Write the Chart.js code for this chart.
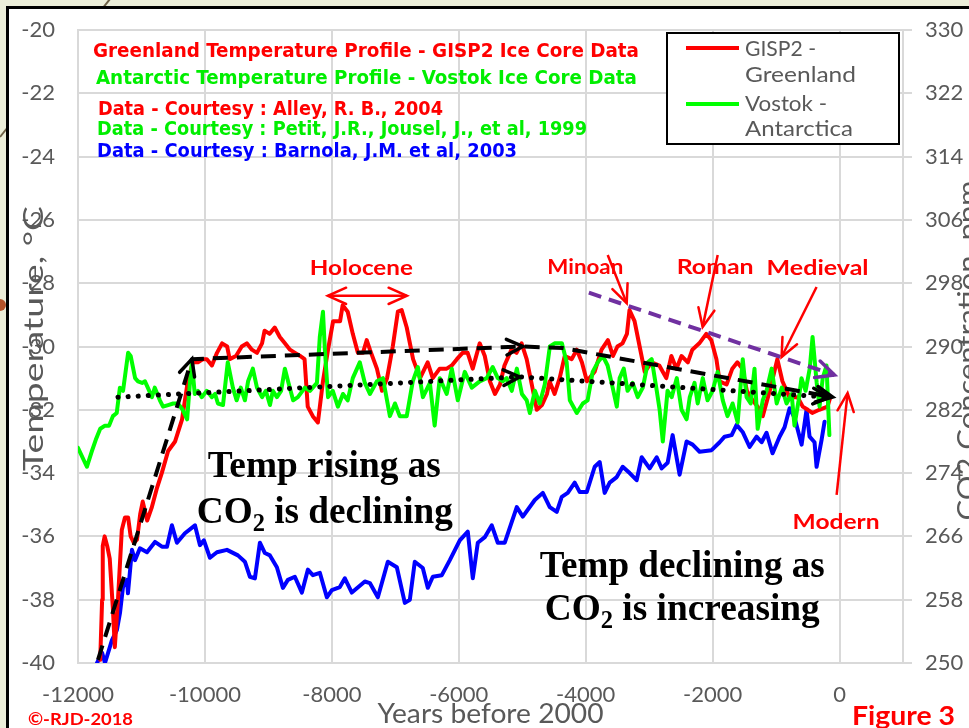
<!DOCTYPE html>
<html>
<head>
<meta charset="utf-8">
<title>Greenland and Antarctic Holocene temperature vs CO2</title>
<script src="https://cdn.jsdelivr.net/npm/chart.js@4.4.1/dist/chart.umd.min.js"></script>
<style>
  html, body { margin: 0; padding: 0; }
  body { width: 969px; height: 728px; overflow: hidden; position: relative; background: #eceed9; }
  #deco { position: absolute; left: 0; top: 0; }
  #frame { position: absolute; left: 6px; top: 6px; width: 1000px; height: 760px; border: 3px solid #000; background: #fff; }
  #cv { position: absolute; left: 0; top: 0; }
</style>
</head>
<body>
<svg id="deco" width="969" height="728">
  <line x1="0" y1="137" x2="114" y2="-6" stroke="#6d6045" stroke-width="2"/>
  <circle cx="0" cy="305" r="6" fill="#b5532a"/>
</svg>
<div id="frame"></div>
<canvas id="cv" width="969" height="728"></canvas>
<script>
// ---- values ----
const yearTicks = [-12000, -10000, -8000, -6000, -4000, -2000, 0];
const tempTicks = [-40, -38, -36, -34, -32, -30, -28, -26, -24, -22, -20];
const co2Ticks = [250, 258, 266, 274, 282, 290, 298, 306, 314, 322, 330];

// GISP2 - Greenland (deg C)
const gispYears = [
  -11650, -11620, -11610, -11580, -11540, -11500, -11450, -11420, -11370, -11310,
  -11260, -11210, -11170, -11120, -11070, -11020, -10980, -10910, -10840, -10760,
  -10680, -10580, -10470, -10360, -10270, -10190, -10110, -10030, -9970, -9890,
  -9810, -9730, -9650, -9610, -9510, -9420, -9340, -9260, -9180, -9100,
  -9060, -8980, -8900, -8820, -8740, -8660, -8580, -8500, -8430, -8380,
  -8300, -8220, -8140, -8060, -7980, -7870, -7830, -7750, -7670, -7590,
  -7510, -7450, -7400, -7290, -7210, -7130, -7040, -6960, -6900, -6820,
  -6720, -6610, -6490, -6410, -6300, -6190, -6110, -6030, -5940, -5860,
  -5780, -5670, -5590, -5510, -5430, -5350, -5280, -5170, -5090, -5010,
  -4930, -4850, -4770, -4690, -4610, -4570, -4490, -4410, -4330, -4220,
  -4140, -4060, -3980, -3860, -3750, -3650, -3570, -3500, -3420, -3350,
  -3310, -3230, -3150, -3070, -2960, -2840, -2730, -2650, -2570, -2490,
  -2390, -2320, -2210, -2100, -2020, -1940, -1890, -1780, -1690, -1610,
  -1530, -1460, -1370, -1290, -1210, -1100, -980, -900, -790, -660,
  -580, -500, -430, -320, -190, -145
];
const gispTemps = [
  -39.9, -38.0, -36.3, -36.0, -36.3, -36.7, -38.3, -39.5, -38.0, -35.8,
  -35.4, -35.4, -36.0, -36.2, -36.1, -35.3, -34.9, -35.5, -35.1, -34.5,
  -34.0, -33.3, -33.0, -32.3, -31.1, -30.5, -30.5, -30.4, -30.4, -30.6,
  -30.2, -29.9, -30.0, -30.4, -30.3, -30.0, -29.9, -30.1, -30.2, -29.9,
  -29.5, -29.6, -29.4, -29.7, -29.9, -30.1, -30.2, -30.3, -30.4, -31.9,
  -32.2, -32.4, -31.1, -30.1, -29.2, -29.2, -28.7, -28.9, -29.6, -30.2,
  -30.2, -29.8, -30.1, -30.7, -31.4, -31.0, -30.0, -28.9, -28.85, -29.4,
  -30.4, -31.0, -30.5, -31.0, -30.7, -30.7, -30.6, -30.4, -30.2, -30.2,
  -30.7, -29.9, -30.3, -31.1, -31.5, -31.2, -30.6, -30.1, -30.2, -29.9,
  -30.4, -31.2, -32.0, -31.85, -31.5, -31.1, -31.5, -31.0, -30.3, -30.4,
  -30.1, -30.5, -31.1, -30.8, -30.1, -29.8, -30.3, -30.0, -29.9, -29.6,
  -28.85, -29.2, -30.0, -30.8, -30.5, -30.6, -31.0, -30.3, -30.7, -30.3,
  -30.5, -30.1, -29.9, -29.6, -29.8, -30.4, -31.1, -31.2, -30.7, -30.5,
  -30.7, -31.4, -31.7, -31.9, -32.2, -31.4, -30.4, -31.1, -31.6, -31.6,
  -31.9, -32.0, -32.1, -32.0, -31.9, -31.6
];

// Vostok - Antarctica (deg C)
const vostokYears = [
  -12000, -11860, -11780, -11720, -11650, -11575, -11510, -11450, -11390, -11340,
  -11290, -11210, -11170, -11100, -11055, -10990, -10945, -10900, -10835, -10790,
  -10710, -10660, -10580, -10500, -10425, -10350, -10280, -10235, -10205, -10160,
  -10110, -10050, -9970, -9890, -9840, -9795, -9715, -9640, -9560, -9500,
  -9435, -9370, -9320, -9245, -9180, -9100, -9040, -8975, -8930, -8865,
  -8800, -8740, -8690, -8610, -8535, -8425, -8345, -8235, -8190, -8140,
  -8110, -8060, -7985, -7905, -7825, -7750, -7670, -7560, -7480, -7400,
  -7290, -7195, -7085, -7005, -6930, -6820, -6725, -6645, -6565, -6455,
  -6380, -6300, -6190, -6110, -6015, -5905, -5795, -5670, -5560, -5465,
  -5385, -5305, -5245, -5165, -5085, -5005, -4930, -4880, -4800, -4725,
  -4645, -4565, -4490, -4375, -4300, -4250, -4140, -4045, -3970, -3890,
  -3810, -3730, -3655, -3575, -3510, -3465, -3400, -3340, -3260, -3180,
  -3100, -3020, -2960, -2880, -2835, -2785, -2710, -2645, -2565, -2490,
  -2410, -2360, -2285, -2235, -2155, -2080, -2000, -1920, -1840, -1765,
  -1685, -1605, -1525, -1465, -1400, -1340, -1290, -1210, -1150, -1070,
  -990, -910, -835, -755, -710, -645, -600, -535, -470, -425,
  -360, -315, -265, -205, -160
];
const vostokTemps = [
  -33.2, -33.8, -33.3, -32.95, -32.6, -32.5, -32.5, -32.2, -32.1, -31.3,
  -31.4, -30.2, -30.3, -31.0, -31.1, -31.15, -31.1, -31.3, -31.6, -31.3,
  -31.7, -31.9, -31.85, -31.8, -31.8, -32.0, -32.3, -31.1, -30.5, -31.5,
  -31.4, -31.6, -31.4, -31.6, -31.5, -31.8, -31.85, -30.5, -31.3, -31.7,
  -31.3, -31.7, -31.1, -30.7, -31.3, -31.6, -31.4, -31.85, -31.4, -31.6,
  -31.4, -30.7, -31.1, -31.7, -31.6, -31.3, -31.4, -31.15, -29.7, -28.9,
  -30.1, -31.6, -31.4, -31.9, -31.5, -31.7, -31.0, -30.5, -31.15, -31.5,
  -31.1, -31.0, -32.2, -31.8, -32.2, -32.2, -31.1, -30.65, -31.6, -31.15,
  -32.5, -31.0, -31.5, -30.7, -31.7, -30.8, -31.3, -31.1, -31.0, -30.65,
  -31.0, -31.1, -31.0, -31.4, -30.7, -31.5, -31.7, -32.1, -31.4, -31.8,
  -31.2, -30.0, -29.9, -29.9, -30.5, -31.7, -32.1, -31.8, -31.7, -30.8,
  -30.5, -30.3, -30.6, -31.3, -31.9, -31.0, -30.7, -31.4, -31.15, -31.6,
  -31.3, -30.5, -30.4, -31.4, -32.0, -33.0, -31.4, -31.6, -31.0, -32.0,
  -32.3, -31.6, -31.15, -31.8, -31.0, -31.7, -31.4, -30.8, -31.7, -32.2,
  -31.8, -32.4, -30.4, -31.6, -31.8, -30.7, -32.6, -31.7, -31.4, -30.7,
  -31.8, -31.3, -31.8, -31.5, -32.5, -31.7, -31.0, -31.4, -30.7, -29.7,
  -31.15, -31.9, -31.0, -30.6, -32.8
];

// CO2 (ppm), Barnola
const co2Years = [
  -11700, -11620, -11575, -11465, -11386, -11339, -11291, -11228, -11213, -11150,
  -11102, -11024, -10913, -10787, -10677, -10598, -10520, -10441, -10315, -10157,
  -10079, -10016, -9921, -9811, -9653, -9480, -9370, -9291, -9212, -9134,
  -9055, -8976, -8866, -8771, -8693, -8583, -8472, -8378, -8299, -8189,
  -8079, -8000, -7874, -7795, -7685, -7480, -7401, -7275, -7118, -6976,
  -6850, -6771, -6693, -6567, -6488, -6409, -6267, -6141, -5984, -5858,
  -5779, -5700, -5590, -5480, -5385, -5275, -5086, -4991, -4802, -4676,
  -4566, -4456, -4377, -4283, -4173, -4094, -3984, -3858, -3779, -3701,
  -3622, -3511, -3417, -3307, -3197, -3118, -2992, -2881, -2803, -2709,
  -2630, -2520, -2410, -2315, -2205, -2016, -1889, -1811, -1700, -1622,
  -1527, -1417, -1307, -1228, -1150, -1055, -945, -866, -787, -708,
  -598, -520, -472, -394, -362, -283, -236
];
const co2Values = [
  250.0, 251.3, 250.0, 252.9, 254.2, 256.3, 259.6, 260.5, 258.8, 264.3,
  263.0, 264.5, 264.0, 265.3, 264.7, 264.7, 267.4, 265.2, 266.4, 267.4,
  264.9, 265.5, 263.3, 264.0, 264.3, 263.6, 262.8, 260.9, 260.7, 265.2,
  263.9, 263.6, 262.1, 259.5, 260.5, 260.9, 258.9, 261.8, 261.1, 261.4,
  258.3, 259.2, 259.6, 260.7, 258.9, 260.3, 260.1, 258.3, 262.8, 262.1,
  257.6, 258.0, 262.8, 262.0, 259.5, 260.9, 261.1, 263.0, 265.5, 266.6,
  260.7, 265.2, 265.9, 267.4, 265.2, 265.2, 269.7, 268.5, 270.6, 271.5,
  269.7, 269.1, 271.0, 271.5, 272.8, 271.6, 271.6, 274.8, 275.4, 271.5,
  272.8, 273.5, 274.8, 274.0, 273.1, 276.0, 274.6, 276.0, 274.6, 275.3,
  278.8, 273.8, 278.0, 277.6, 276.7, 276.9, 277.9, 278.6, 278.8, 280.1,
  279.2, 277.3, 278.6, 277.9, 279.1, 276.5, 278.6, 279.8, 282.2, 281.0,
  277.6, 282.0, 278.6, 277.9, 274.8, 278.2, 280.5
];

// trend lines drawn over the data on the slide
const riseYears = [-11685, -10205, -4990, -4360, -110];
const riseTemps = [-39.9, -30.4, -30.0, -30.05, -31.6];
const flatYears = [-11370, -5040, -160];
const flatTemps = [-31.6, -30.96, -31.6];
const peakYears = [-3950, -80];
const peakTemps = [-28.3, -30.9];

const GREY = '#595959';
const GRID = '#d9d9d9';

const pts = (xs, ys) => xs.map((x, i) => ({ x: x, y: ys[i] }));
const setTicks = arr => scale => { scale.ticks = arr.map(v => ({ value: v })); };
// fixed axis box; the tick padding must not push the plot down
const fixWidth = w => scale => { scale.width = w; scale.paddingTop = 0; scale.paddingBottom = 0; };

// draw text squeezed/stretched to the width it has on the slide
function fitText(ctx, text, x, y, width, font, color, align) {
  ctx.font = font;
  const w = ctx.measureText(text).width;
  ctx.save();
  ctx.translate(x, y);
  ctx.scale(width / w, 1);
  ctx.font = font;
  ctx.fillStyle = color;
  ctx.textAlign = align || 'left';
  ctx.textBaseline = 'alphabetic';
  ctx.fillText(text, 0, 0);
  ctx.restore();
}

// "CO" + subscript 2 + rest, centred on cx
function co2Text(ctx, rest, cx, y, width, size) {
  const big = 'bold ' + size + 'px "Liberation Serif", "Times New Roman", serif';
  const small = 'bold ' + Math.round(size * 0.65) + 'px "Liberation Serif", "Times New Roman", serif';
  ctx.font = big;
  const w1 = ctx.measureText('CO').width, w3 = ctx.measureText(rest).width;
  ctx.font = small;
  const w2 = ctx.measureText('2').width;
  const k = width / (w1 + w2 + w3);
  ctx.save();
  ctx.translate(cx - width / 2, y);
  ctx.scale(k, 1);
  ctx.fillStyle = '#000';
  ctx.textAlign = 'left';
  ctx.textBaseline = 'alphabetic';
  ctx.font = big; ctx.fillText('CO', 0, 0);
  ctx.font = small; ctx.fillText('2', w1, size * 0.22);
  ctx.font = big; ctx.fillText(rest, w1 + w2, 0);
  ctx.restore();
}

function head(ctx, from, to, len, ang, color, lw) {
  const a = Math.atan2(to[1] - from[1], to[0] - from[0]);
  ctx.save();
  ctx.setLineDash([]);
  ctx.strokeStyle = color;
  ctx.lineWidth = lw;
  ctx.lineCap = 'round';
  ctx.lineJoin = 'miter';
  ctx.beginPath();
  ctx.moveTo(to[0] - len * Math.cos(a - ang), to[1] - len * Math.sin(a - ang));
  ctx.lineTo(to[0], to[1]);
  ctx.lineTo(to[0] - len * Math.cos(a + ang), to[1] - len * Math.sin(a + ang));
  ctx.stroke();
  ctx.restore();
}

function arrow(ctx, from, to, color, lw, both) {
  ctx.save();
  ctx.setLineDash([]);
  ctx.strokeStyle = color;
  ctx.lineWidth = lw;
  ctx.beginPath();
  ctx.moveTo(from[0], from[1]);
  ctx.lineTo(to[0], to[1]);
  ctx.stroke();
  ctx.restore();
  head(ctx, from, to, 20, 0.42, color, lw);
  if (both) head(ctx, to, from, 20, 0.42, color, lw);
}

const noteArrows = [
  { from: [-8063, -28.4], to: [-6818, -28.4], both: true },
  { from: [-3653, -27.11], to: [-3354, -28.63] },
  { from: [-1920, -27.11], to: [-2157, -29.38] },
  { from: [-362, -28.12], to: [-913, -30.33] },
  { from: [-46, -34.69], to: [127, -31.47] }
];
const redLabels = [
  { text: 'Holocene', x: -7535, y: -27.74, w: 103 },
  { text: 'Minoan', x: -4007, y: -27.72, w: 76 },
  { text: 'Roman', x: -1960, y: -27.72, w: 77 },
  { text: 'Medieval', x: -346, y: -27.74, w: 102 },
  { text: 'Modern', x: -54, y: -35.77, w: 87 }
];
const sourceLines = [
  { text: 'Greenland Temperature Profile - GISP2 Ice Core Data', color: '#ff0000', x: -11764, y: -20.85, w: 546 },
  { text: 'Antarctic Temperature Profile - Vostok Ice Core Data', color: '#00ee00', x: -11717, y: -21.72, w: 541 },
  { text: 'Data - Courtesy : Alley, R. B., 2004', color: '#ff0000', x: -11685, y: -22.67, w: 345 },
  { text: 'Data - Courtesy : Petit, J.R., Jousel, J., et al, 1999', color: '#00ee00', x: -11700, y: -23.33, w: 490 },
  { text: 'Data - Courtesy : Barnola, J.M. et al, 2003', color: '#0000ff', x: -11700, y: -24.0, w: 420 }
];

const slideNotes = {
  id: 'slideNotes',
  afterDatasetsDraw(chart) {
    const ctx = chart.ctx, sx = chart.scales.x, sy = chart.scales.y;
    const P = p => [sx.getPixelForValue(p[0]), sy.getPixelForValue(p[1])];

    // arrow heads on the hand-drawn trend lines
    const rise = riseYears.map((x, i) => P([x, riseTemps[i]]));
    head(ctx, rise[0], rise[1], 18, 0.45, '#000', 3.5);
    head(ctx, rise[1], rise[2], 18, 0.45, '#000', 3.5);
    head(ctx, rise[3], rise[4], 18, 0.45, '#000', 3.5);
    const flat = flatYears.map((x, i) => P([x, flatTemps[i]]));
    head(ctx, flat[0], flat[1], 18, 0.45, '#000', 3.5);
    head(ctx, flat[1], flat[2], 18, 0.45, '#000', 3.5);
    const peak = peakYears.map((x, i) => P([x, peakTemps[i]]));
    head(ctx, peak[0], peak[1], 20, 0.45, '#7030a0', 3.5);

    noteArrows.forEach(a => arrow(ctx, P(a.from), P(a.to), '#ff0000', 2.5, a.both));

    const labelFont = 'bold 21px Lato, "Open Sans", sans-serif';
    redLabels.forEach(l => {
      const p = P([l.x, l.y]);
      fitText(ctx, l.text, p[0], p[1], l.w, labelFont, '#ff0000', 'center');
    });

    const srcFont = 'bold 19px "DejaVu Sans Condensed", "DejaVu Sans", sans-serif';
    sourceLines.forEach(l => {
      const p = P([l.x, l.y]);
      fitText(ctx, l.text, p[0], p[1], l.w, srcFont, l.color, 'left');
    });

    const serif = 'bold 38px "Liberation Serif", "Times New Roman", serif';
    let p = P([-8118, -34.12]);
    fitText(ctx, 'Temp rising as', p[0], p[1], 233, serif, '#000', 'center');
    p = P([-8110, -35.58]);
    co2Text(ctx, ' is declining', p[0], p[1], 256, 38);
    p = P([-2479, -37.28]);
    fitText(ctx, 'Temp declining as', p[0], p[1], 285, serif, '#000', 'center');
    p = P([-2479, -38.64]);
    co2Text(ctx, ' is increasing', p[0], p[1], 275, 38);
  },
  afterDraw(chart) {
    const ctx = chart.ctx, area = chart.chartArea;
    const sans = s => s + 'px Lato, "Open Sans", sans-serif';

    // legend box inside the plot, top right
    const lx = area.left + 589, ly = area.top + 3;
    ctx.save();
    ctx.fillStyle = '#fff';
    ctx.fillRect(lx, ly, 232, 111);
    ctx.strokeStyle = '#000';
    ctx.lineWidth = 2;
    ctx.strokeRect(lx, ly, 232, 111);
    const items = [chart.data.datasets[4], chart.data.datasets[3]];
    items.forEach((ds, i) => {
      const yLine = ly + 15 + i * 56;
      ctx.strokeStyle = ds.borderColor;
      ctx.lineWidth = 4;
      ctx.beginPath();
      ctx.moveTo(lx + 19, yLine);
      ctx.lineTo(lx + 72, yLine);
      ctx.stroke();
    });
    ctx.restore();
    fitText(ctx, 'GISP2 -', lx + 78, ly + 23, 71, sans(21), GREY);
    fitText(ctx, 'Greenland', lx + 78, ly + 49, 111, sans(21), GREY);
    fitText(ctx, 'Vostok -', lx + 78, ly + 78, 82, sans(21), GREY);
    fitText(ctx, 'Antarctica', lx + 78, ly + 103, 108, sans(21), GREY);

    // axis titles
    ctx.save();
    ctx.translate(43, (area.top + area.bottom) / 2 - 8);
    ctx.rotate(-Math.PI / 2);
    fitText(ctx, 'Temperature, \u00B0C', 0, 0, 265, sans(27), GREY, 'center');
    ctx.restore();
    ctx.save();
    ctx.translate(977, (area.top + area.bottom) / 2 + 4);
    ctx.rotate(-Math.PI / 2);
    fitText(ctx, 'CO2 Concentration, ppm', 0, 0, 340, sans(27), GREY, 'center');
    ctx.restore();
    fitText(ctx, 'Years before 2000', (area.left + area.right) / 2, 723, 226, sans(26), GREY, 'center');

    // slide footer
    fitText(ctx, '\u00A9-RJD-2018', 28, 725, 105, 'bold 17px Lato, "Open Sans", sans-serif', '#ff0000');
    fitText(ctx, 'Figure 3', 852, 725, 103, 'bold 26px Lato, "Open Sans", sans-serif', '#ff0000');
  }
};

const lineBase = { showLine: true, pointRadius: 0, pointHoverRadius: 0, fill: false, tension: 0, borderJoinStyle: 'round', borderCapStyle: 'round' };

new Chart(document.getElementById('cv'), {
  type: 'scatter',
  data: {
    datasets: [
      Object.assign({}, lineBase, { label: 'rise', data: pts(riseYears, riseTemps), borderColor: '#000', borderWidth: 4, borderDash: [15, 9], borderCapStyle: 'butt', order: 0 }),
      Object.assign({}, lineBase, { label: 'flat', data: pts(flatYears, flatTemps), borderColor: '#000', borderWidth: 5, borderDash: [0.1, 10], order: 0 }),
      Object.assign({}, lineBase, { label: 'peaks', data: pts(peakYears, peakTemps), borderColor: '#7030a0', borderWidth: 4, borderDash: [13, 8], borderCapStyle: 'butt', order: 0 }),
      Object.assign({}, lineBase, { label: 'Vostok - Antarctica', data: pts(vostokYears, vostokTemps), borderColor: '#00ff00', borderWidth: 4, order: 1 }),
      Object.assign({}, lineBase, { label: 'GISP2 - Greenland', data: pts(gispYears, gispTemps), borderColor: '#ff0000', borderWidth: 4, order: 2 }),
      Object.assign({}, lineBase, { label: 'CO2', data: pts(co2Years, co2Values), borderColor: '#0000ff', borderWidth: 4, yAxisID: 'y2', order: 3 })
    ]
  },
  options: {
    responsive: false,
    animation: false,
    layout: { padding: { top: 30, left: 0, right: 0, bottom: 0 } },
    plugins: { legend: { display: false }, tooltip: { enabled: false } },
    scales: {
      x: {
        type: 'linear', min: -12000, max: 1000,
        afterBuildTicks: setTicks(yearTicks),
        afterFit: s => { s.height = 65; },
        grid: { color: GRID, lineWidth: 2, drawTicks: false },
        border: { display: true, color: GRID, width: 2 },
        ticks: { color: GREY, font: { family: 'Lato', size: 22 }, padding: 19, maxRotation: 0, autoSkip: false, callback: v => String(v) }
      },
      y: {
        position: 'left', min: -40, max: -20,
        afterBuildTicks: setTicks(tempTicks),
        afterFit: fixWidth(78),
        grid: { color: GRID, lineWidth: 2, drawTicks: false },
        border: { display: true, color: GRID, width: 2 },
        ticks: { color: GREY, font: { family: 'Lato', size: 22 }, padding: 23, callback: v => String(v) }
      },
      y2: {
        position: 'right', min: 250, max: 330,
        afterBuildTicks: setTicks(co2Ticks),
        afterFit: fixWidth(66),
        grid: { drawOnChartArea: false, color: GRID, lineWidth: 2, tickLength: 9 },
        border: { display: true, color: GRID, width: 2 },
        ticks: { color: GREY, font: { family: 'Lato', size: 22 }, padding: 13, callback: v => String(v) }
      }
    }
  },
  plugins: [slideNotes]
});
</script>
</body>
</html>
